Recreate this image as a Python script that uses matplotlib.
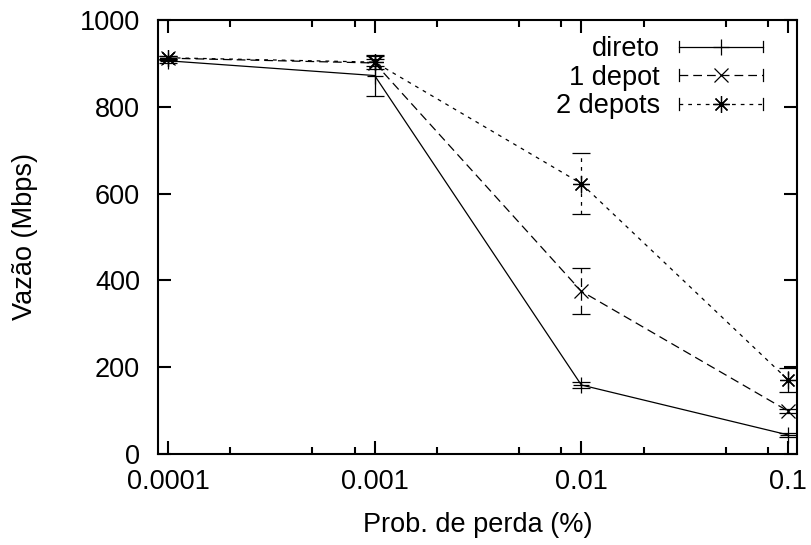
import matplotlib
matplotlib.use("Agg")
import matplotlib.pyplot as plt
from matplotlib.lines import Line2D
from matplotlib.legend_handler import HandlerBase
from matplotlib.container import ErrorbarContainer
from matplotlib.ticker import LogLocator, NullFormatter, FixedLocator, FixedFormatter

plt.rcParams['font.family'] = ['Liberation Sans', 'DejaVu Sans']

# Loss probability (%) and measured throughput (Mbps) with error ranges
loss_prob = [0.0001, 0.001, 0.01, 0.1]
x_tick_labels = ["0.0001", "0.001", "0.01", "0.1"]

direto = [906, 872, 159, 44]
direto_err = [4, 48, 8, 4]

depot1 = [912, 901, 375, 99]
depot1_err = [4, 8, 53, 5]

depot2 = [913, 903, 623, 171]
depot2_err = [4, 15, 71, 28]

series_labels = ["direto", "1 depot", "2 depots"]

FS = 19.5


class HandlerErrLine(HandlerBase):
    """Legend key: horizontal bar with end ticks and the point marker in the middle."""

    def create_artists(self, legend, orig_handle, xdescent, ydescent,
                       width, height, fontsize, trans):
        src = orig_handle.lines[0]
        y = height / 2.0 - ydescent
        x0, x1 = -xdescent, width - xdescent
        h = 0.22 * fontsize
        bar = Line2D([x0, x1], [y, y], color=src.get_color(),
                     linewidth=src.get_linewidth(), linestyle=src.get_linestyle())
        dash = src._unscaled_dash_pattern[1]
        if dash:
            bar.set_dashes(dash)
        capl = Line2D([x0, x0], [y - h, y + h], color=src.get_color(),
                      linewidth=src.get_linewidth())
        capr = Line2D([x1, x1], [y - h, y + h], color=src.get_color(),
                      linewidth=src.get_linewidth())
        mk = Line2D([(x0 + x1) / 2.0], [y], linestyle='none',
                    marker=src.get_marker(), markersize=src.get_markersize(),
                    markeredgewidth=src.get_markeredgewidth(),
                    color=src.get_color())
        arts = [bar, capl, capr, mk]
        for a in arts:
            a.set_transform(trans)
        return arts


fig = plt.figure(figsize=(8.11, 5.45), dpi=100)
ax = fig.add_axes([158 / 811, 91 / 545, (797 - 158) / 811, (454 - 20) / 545])

styles = [
    dict(ls='-', dashes=None, marker='+', ms=12),
    dict(ls='--', dashes=(7, 4), marker='x', ms=10),
    dict(ls='--', dashes=(3, 4), marker=(8, 2, 0), ms=12),
]
data = [(direto, direto_err), (depot1, depot1_err), (depot2, depot2_err)]

containers = []
for (vals, errs), st, lab in zip(data, styles, series_labels):
    eb = ax.errorbar(loss_prob, vals, yerr=errs, color='black', linewidth=0.9,
                     marker=st['marker'], markersize=st['ms'], markeredgewidth=0.9,
                     capsize=6.5, capthick=0.9, elinewidth=0.9, label=lab,
                     linestyle=st['ls'])
    line = eb.lines[0]
    if st['dashes'] is not None:
        line.set_dashes(st['dashes'])
        for lc in eb.lines[2]:
            lc.set_linestyle((0, st['dashes']))
    containers.append(eb)

ax.set_xscale('log')
ax.set_xlim(10 ** (-4 - 10 / 207), 10 ** (-1 + 9 / 207))
ax.set_ylim(0, 1000)

ax.xaxis.set_major_locator(FixedLocator(loss_prob))
ax.xaxis.set_major_formatter(FixedFormatter(x_tick_labels))
ax.xaxis.set_minor_locator(LogLocator(base=10, subs=(2.0, 5.0, 8.0)))
ax.xaxis.set_minor_formatter(NullFormatter())
ax.set_yticks([0, 200, 400, 600, 800, 1000])

ax.tick_params(which='both', direction='in', top=True, right=True, width=1.5)
ax.tick_params(which='major', length=9.5, labelsize=FS)
ax.tick_params(which='minor', length=5)
ax.tick_params(axis='x', which='major', pad=11)
ax.tick_params(axis='y', which='major', pad=13)
for sp in ax.spines.values():
    sp.set_linewidth(1.5)

ax.set_xlabel("Prob. de perda (%)", fontsize=FS, labelpad=12)
ax.set_ylabel("Vazão (Mbps)", fontsize=FS, labelpad=30)

leg = ax.legend(handles=containers, labels=series_labels,
                handler_map={ErrorbarContainer: HandlerErrLine()},
                loc='upper right', bbox_to_anchor=(763 / 811, 1 - 36 / 545),
                bbox_transform=fig.transFigure, frameon=False, fontsize=FS,
                markerfirst=False, handlelength=3.1, handletextpad=0.7,
                labelspacing=0.1, borderpad=0, borderaxespad=0)

fig.savefig("out.png", dpi=100)
